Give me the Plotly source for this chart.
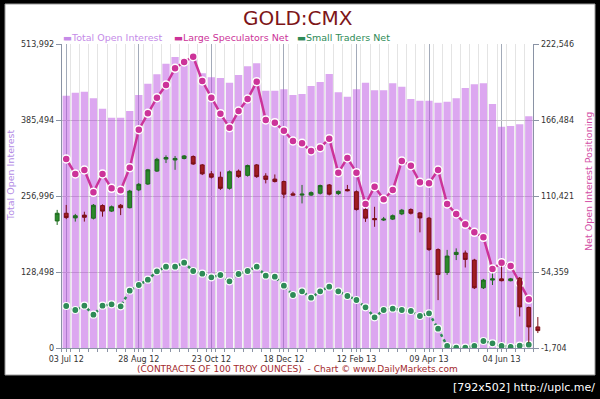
import plotly.graph_objects as go
import pandas as pd

# ---------------- data ----------------
week_dates = pd.date_range("2012-07-03", periods=52, freq="7D")
candle_dates = pd.date_range("2012-06-26", periods=54, freq="7D")

total_open_interest = [
    426600, 431650, 433340, 422190, 404600, 389380, 389380, 400710, 427760, 446870,
    462760, 480690, 492010, 486940, 490830, 464450, 457690, 456510, 448560, 461580,
    476280, 481360, 435030, 435030, 437400, 427760, 429450, 442980, 449740, 463270,
    432330, 424890, 437400, 448560, 435710, 435710, 447540, 441800, 421000, 418130,
    418130, 414750, 416440, 422190, 439600, 445850, 447540, 412550, 374170, 375350,
    378220, 391750,
]
large_speculators_net = [
    137715, 126650, 129600, 113150, 126650, 116100, 114630, 131300, 159330, 171430,
    182930, 192300, 204620, 209270, 213180, 195250, 182930, 171130, 160800, 173120,
    181980, 194740, 166480, 164490, 158590, 150990, 149300, 143620, 146050, 152690,
    127610, 138450, 127610, 104520, 117280, 107990, 114850, 136240, 132770, 120530,
    119790, 129600, 104520, 97140, 89550, 83640, 79960, 56570, 61220, 58790,
    46250, 34220,
]
small_traders_net = [
    29280, 26330, 29500, 22860, 29500, 30530, 29060, 40570, 44770, 48680,
    54880, 58270, 58270, 61220, 55100, 53110, 50450, 52150, 47500, 52880,
    55100, 58270, 51630, 50890, 44250, 37390, 40120, 35400, 40120, 43520,
    40120, 36660, 33710, 28320, 20940, 26330, 27290, 26330, 25590, 21900,
    23890, 12530, -230, -1480, -1480, -230, 3460, 1760, -230, -970,
    -10, 730,
]
# gold price candles (hidden scale)
gold_open = [1579, 1604, 1589, 1598, 1588, 1629, 1611, 1630, 1622, 1680, 1699, 1741, 1780, 1777,
             1782, 1788, 1761, 1732, 1721, 1685, 1741, 1727, 1761, 1725, 1715, 1707, 1667, 1663,
             1663, 1669, 1696, 1668, 1681, 1674, 1616, 1587, 1582, 1585, 1602, 1616, 1605, 1588,
             1486, 1412, 1470, 1475, 1452, 1362, 1387, 1391, 1385, 1393, 1298, 1235]
gold_high = [1615, 1631, 1602, 1609, 1634, 1633, 1629, 1634, 1680, 1702, 1748, 1784, 1792, 1790,
             1793, 1792, 1764, 1741, 1739, 1743, 1746, 1762, 1764, 1734, 1730, 1710, 1674, 1696,
             1675, 1697, 1699, 1678, 1696, 1678, 1620, 1625, 1592, 1600, 1618, 1620, 1608, 1592,
             1490, 1485, 1490, 1483, 1456, 1391, 1408, 1431, 1394, 1397, 1301, 1267]
gold_low = [1566, 1585, 1577, 1577, 1584, 1593, 1608, 1598, 1620, 1676, 1696, 1738, 1767, 1745,
            1779, 1761, 1728, 1717, 1680, 1681, 1719, 1723, 1719, 1701, 1704, 1653, 1661, 1636,
            1660, 1665, 1662, 1663, 1675, 1613, 1576, 1560, 1579, 1582, 1598, 1600, 1542, 1482,
            1322, 1404, 1452, 1428, 1358, 1358, 1371, 1383, 1383, 1269, 1184, 1215]
gold_close = [1604, 1590, 1596, 1591, 1630, 1611, 1625, 1622, 1676, 1698, 1745, 1779, 1785, 1782,
              1790, 1764, 1732, 1721, 1685, 1739, 1723, 1759, 1723, 1714, 1707, 1666, 1663, 1666,
              1671, 1694, 1666, 1675, 1677, 1616, 1588, 1583, 1585, 1596, 1614, 1604, 1589, 1486,
              1405, 1465, 1477, 1454, 1362, 1387, 1391, 1385, 1391, 1300, 1235, 1223]

left_ticks = [0, 128498, 256996, 385494, 513992]
left_tick_labels = ["0", "128,498", "256,996", "385,494", "513,992"]
right_ticks = [-1704, 54359, 110421, 166484, 222546]
right_tick_labels = ["-1,704", "54,359", "110,421", "166,484", "222,546"]
x_tick_dates = list(week_dates[::8])
x_tick_labels = ["03 Jul 12", "28 Aug 12", "23 Oct 12", "18 Dec 12", "12 Feb 13", "09 Apr 13", "04 Jun 13"]

# ---------------- layout geometry ----------------
W, H = 600, 399
ML, MR, MT, MB = 53, 58, 44, 51
PW = W - ML - MR
PH = H - MT - MB
A = (61.7 - ML) / PW          # inner domain inset for main axes
DAY = pd.Timedelta(days=1)
x_lo = week_dates[0] - 3.5 * DAY
x_hi = week_dates[-1] + 3.5 * DAY
span = (x_hi - x_lo)
ext = (span / (1 - 2 * A) - span) / 2
x2_lo, x2_hi = x_lo - ext, x_hi + ext


def px(x):
    return (x - ML) / PW


def py(y):
    return (H - MB - y) / PH


TICKFONT = dict(family="DejaVu Sans", size=8, color="#333333")
AXCOL = "#8a93a5"

fig = go.Figure()
fig.add_trace(go.Bar(
    x=week_dates, y=total_open_interest, name="Total Open Interest",
    marker=dict(color="rgba(185,80,225,0.5)", line=dict(width=0)),
    xaxis="x", yaxis="y", showlegend=False, hoverinfo="skip"))
fig.add_trace(go.Scatter(
    x=week_dates, y=small_traders_net, name="Small Traders Net", mode="lines+markers",
    line=dict(color="#2e8b57", width=2.5, dash="dot"),
    marker=dict(size=7, color="#2e8b57", line=dict(color="white", width=1.2)),
    xaxis="x", yaxis="y2", showlegend=False))
fig.add_trace(go.Scatter(
    x=week_dates, y=large_speculators_net, name="Large Speculators Net", mode="lines+markers",
    line=dict(color="#cc3399", width=2.5),
    marker=dict(size=8, color="#cc3399", line=dict(color="white", width=1.5)),
    xaxis="x", yaxis="y2", showlegend=False))
fig.add_trace(go.Candlestick(
    x=candle_dates, open=gold_open, high=gold_high, low=gold_low, close=gold_close,
    xaxis="x2", yaxis="y3", showlegend=False, whiskerwidth=0,
    increasing=dict(fillcolor="#2b8a2b", line=dict(color="#1e6b1e", width=1)),
    decreasing=dict(fillcolor="#a01c22", line=dict(color="#7a0f15", width=1))))

fig.update_layout(
    width=W, height=H, margin=dict(l=ML, r=MR, t=MT, b=MB, pad=0),
    paper_bgcolor="black", plot_bgcolor="rgba(0,0,0,0)",
    bargap=0.2, boxgap=0.4, showlegend=False,
    xaxis=dict(domain=[A, 1 - A], range=[x_lo, x_hi], type="date", anchor="y",
               tickvals=x_tick_dates, ticktext=x_tick_labels, tickfont=TICKFONT,
               showgrid=True, gridcolor="#a3abb9", gridwidth=1,
               showline=True, linecolor=AXCOL, ticks="outside", ticklen=3, tickcolor=AXCOL,
               minor=dict(tickmode="linear", tick0=x_lo, dtick=7 * 86400000,
                          showgrid=True, gridcolor="#e4e4e4", ticks="outside", ticklen=3,
                          tickcolor=AXCOL),
               zeroline=False, fixedrange=True),
    yaxis=dict(range=[0, 513992], tickvals=left_ticks, ticktext=left_tick_labels,
               tickfont=TICKFONT, showgrid=True, gridcolor="#c9c9c9", zeroline=False,
               showline=True, linecolor=AXCOL, ticks="outside", ticklen=5, tickcolor=AXCOL,
               anchor="x"),
    yaxis2=dict(range=[-1704, 222546], tickvals=right_ticks, ticktext=right_tick_labels,
                tickfont=TICKFONT, overlaying="y", side="right", anchor="x",
                showgrid=False, zeroline=False, showline=True, linecolor=AXCOL,
                ticks="outside", ticklen=5, tickcolor=AXCOL),
    xaxis2=dict(domain=[0, 1], range=[x2_lo, x2_hi], type="date", anchor="y3",
                visible=False, rangeslider=dict(visible=False)),
    yaxis3=dict(domain=[0, 1], range=[1166.5, 2153.6], anchor="x2", visible=False),
    shapes=[dict(type="rect", xref="paper", yref="paper", layer="below",
                 x0=px(5), x1=px(595), y0=py(375), y1=py(4),
                 fillcolor="white", line=dict(color="#9a9a9a", width=1))],
)


def note(text, x, y, size, color, xanchor="center", angle=0):
    return dict(text=text, x=px(x), y=py(y), xref="paper", yref="paper",
                xanchor=xanchor, yanchor="middle", showarrow=False, textangle=angle,
                font=dict(family="DejaVu Sans", size=size, color=color))


ann = [note("GOLD:CMX", 298, 18, 20, "#7d1518")]
legend_items = [("Total Open Interest", "#c58be8", 61), ("Large Speculators Net", "#cc3399", 172),
                ("Small Traders Net", "#2e8b57", 295)]
for label, col, x0 in legend_items:
    ann.append(note("▬" + label, x0, 37, 9.5, col, xanchor="left"))
ann.append(note("Total Open Interest", 10, 176, 9.5, "#b48ce6", angle=-90))
ann.append(note("Net Open Interest Positioning", 588, 182, 9.5, "#d34fa6", angle=-90))
ann.append(note("(CONTRACTS OF 100 TROY OUNCES)  - Chart © www.DailyMarkets.com",
                297, 369, 9, "#a3282c"))
ann.append(note("[792x502] http://uplc.me/", 597, 387, 11, "white", xanchor="right"))
fig.update_layout(annotations=ann)

fig.write_html("out.html", config={"displayModeBar": False},
               post_script="document.body.style.margin='0px';")
